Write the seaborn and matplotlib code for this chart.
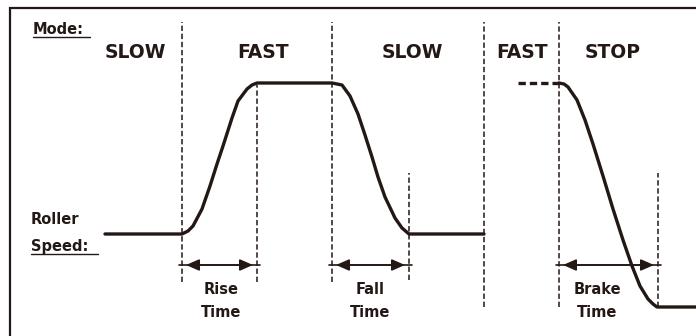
import numpy as np
import pandas as pd
import matplotlib
matplotlib.use("Agg")
import matplotlib.pyplot as plt
import seaborn as sns
from matplotlib.patches import Rectangle

# Roller speed profile (time in arbitrary units, speed in arbitrary units, 0 = stopped)
profile_t = [105, 182, 188, 193, 202, 210, 217, 223, 232, 238, 247, 252, 257,
             332, 342, 350, 358, 365, 372, 378, 385, 395, 402, 409, 484]
profile_speed = [73, 73, 76, 81, 98, 121, 143, 161, 189, 206, 218, 222, 224,
                 224, 222, 211, 193, 172, 150, 130, 110, 89, 79, 73, 73]

brake_t = [559, 564, 568, 577, 585, 593, 603, 613, 623, 632, 640, 648, 653, 657, 696]
brake_speed = [224, 223, 220, 207, 187, 163, 131, 98, 67, 41, 21, 8, 3, 0, 0]

held_t = [518, 559]
held_speed = [224, 224]

# phase boundaries (dashed guides)
guide_t = [182, 257, 332, 409, 484, 559, 658]
guide_top = [285, 222, 285, 134, 285, 285, 134]
guide_bottom = [25, 25, 25, 27, 0, 0, 0]

# mode labels
modes = ["SLOW", "FAST", "SLOW", "FAST", "STOP"]
mode_t = [135, 263, 412, 522, 613]

# timing intervals
intervals = ["Rise\nTime", "Fall\nTime", "Brake\nTime"]
interval_start = [182, 332, 559]
interval_end = [257, 409, 658]
interval_label_t = [221, 370, 597]

INK = "#231815"

df = pd.concat([
    pd.DataFrame({"t": profile_t, "speed": profile_speed, "seg": "run"}),
    pd.DataFrame({"t": brake_t, "speed": brake_speed, "seg": "brake"}),
])

sns.set_style("white")
plt.rcParams["font.family"] = ["DejaVu Sans"]

fig = plt.figure(figsize=(6.96, 3.36), dpi=100)
ax = fig.add_axes([0, 0, 1, 1])
ax.set_xlim(0, 696)
ax.set_ylim(-29, 307)
ax.axis("off")

# frame
ax.add_patch(Rectangle((10, -40), 700, 339, fill=False, lw=1.6, ec=INK))

# dashed guides
ax.vlines(guide_t, guide_bottom, guide_top, colors=INK, lw=1.1,
          linestyles=(0, (3.5, 1.8)))

# speed curve
sns.lineplot(data=df, x="t", y="speed", units="seg", estimator=None,
             sort=False, color=INK, lw=2.4, ax=ax, legend=False)
ax.plot(held_t, held_speed, color=INK, lw=2.4, ls=(0, (2.2, 1.2)))

# mode labels
ax.text(33, 277, "Mode:", fontsize=10.5, fontweight="bold", color=INK,
        ha="left", va="center")
ax.plot([33, 90], [270, 270], color=INK, lw=1.0)
for lab, t in zip(modes, mode_t):
    ax.text(t, 254, lab, fontsize=13.5, fontweight="heavy", color=INK,
            ha="center", va="center")

ax.text(31, 87, "Roller", fontsize=10.5, fontweight="bold", color=INK,
        ha="left", va="center")
ax.text(31, 60, "Speed:", fontsize=10.5, fontweight="bold", color=INK,
        ha="left", va="center")
ax.plot([31, 98], [53, 53], color=INK, lw=1.0)

# timing arrows
arrow_y = 42
for lab, t0, t1, tl in zip(intervals, interval_start, interval_end, interval_label_t):
    ax.plot([t0 - 3, t1 + 3], [arrow_y, arrow_y], color=INK, lw=1.2)
    ax.annotate("", xy=(t0 + 4, arrow_y), xytext=(t1 - 4, arrow_y),
                arrowprops=dict(arrowstyle="<|-|>,head_length=0.8,head_width=0.35",
                                color=INK, lw=1.2, shrinkA=0, shrinkB=0))
    ax.text(tl, 6, lab, fontsize=10.5, fontweight="bold", color=INK,
            ha="center", va="center", linespacing=1.6)

fig.savefig("out.png", dpi=100)
